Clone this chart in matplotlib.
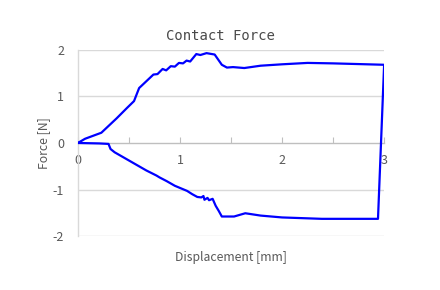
import matplotlib
matplotlib.use("Agg")
import matplotlib.pyplot as plt
from matplotlib.ticker import FixedLocator, FuncFormatter

plt.rcParams["axes.unicode_minus"] = False

# Loop: lower branch (loading), then up at 3 mm, then upper branch back to 0
disp = [0.0, 0.21, 0.30, 0.32, 0.36, 0.67, 0.77, 0.80, 0.87, 0.95, 1.07, 1.12, 1.17,
        1.21, 1.23, 1.24, 1.27, 1.285, 1.32, 1.35, 1.38, 1.41, 1.53, 1.64, 1.79,
        2.0, 2.39, 2.94,
        3.0, 2.5, 2.25, 2.0, 1.79, 1.63, 1.52, 1.46, 1.41, 1.34, 1.26, 1.2, 1.16, 1.1,
        1.065, 1.03, 0.99, 0.95, 0.91, 0.865, 0.83, 0.78, 0.74, 0.60, 0.55, 0.48, 0.38,
        0.23, 0.07, 0.0]
force = [0.0, -0.01, -0.02, -0.13, -0.20, -0.59, -0.70, -0.74, -0.82, -0.92, -1.03, -1.10, -1.16,
         -1.17, -1.14, -1.22, -1.18, -1.23, -1.20, -1.35, -1.46, -1.58, -1.58, -1.51, -1.56,
         -1.60, -1.63, -1.63,
         1.68, 1.71, 1.72, 1.69, 1.66, 1.61, 1.63, 1.62, 1.68, 1.90, 1.93, 1.89, 1.91, 1.75,
         1.77, 1.71, 1.72, 1.64, 1.65, 1.56, 1.59, 1.48, 1.47, 1.18, 0.90, 0.75, 0.53,
         0.22, 0.09, 0.0]

x_ticks = [0, 0.5, 1, 1.5, 2, 2.5, 3]
y_ticks = [-2, -1, 0, 1, 2]

gray = "#595959"
grid = "#d9d9d9"
cjk = ["Noto Sans CJK SC", "DejaVu Sans"]

fig = plt.figure(figsize=(4.4, 2.9), dpi=100)
ax = fig.add_axes([0.177, 0.186, 0.696, 0.642])
ax.plot(disp, force, color="#0000ff", lw=1.6, solid_joinstyle="round", zorder=3)

ax.set_xlim(0, 3)
ax.set_ylim(-2, 2)
for y in y_ticks:
    if y != 0:
        ax.axhline(y, color=grid, lw=1.0, zorder=1)

for s in ["top", "right"]:
    ax.spines[s].set_visible(False)
ax.spines["left"].set_color(grid)
ax.spines["left"].set_linewidth(1.0)
ax.spines["bottom"].set_position(("data", 0))
ax.spines["bottom"].set_color("#bfbfbf")
ax.spines["bottom"].set_linewidth(1.0)

ax.xaxis.set_major_locator(FixedLocator(x_ticks))
ax.xaxis.set_major_formatter(FuncFormatter(lambda v, p: f"{int(v)}" if float(v).is_integer() else ""))
ax.yaxis.set_major_locator(FixedLocator(y_ticks))
ax.yaxis.set_major_formatter(FuncFormatter(lambda v, p: f"{int(v)}"))
ax.tick_params(axis="x", direction="in", length=4, color="#bfbfbf", labelcolor=gray,
               labelsize=9, pad=8)
ax.tick_params(axis="y", length=0, labelcolor=gray, labelsize=9, pad=10)
for lab in ax.get_xticklabels() + ax.get_yticklabels():
    lab.set_family(cjk)

ax.set_xlabel("Displacement [mm]", color=gray, fontsize=8.8, family=cjk, labelpad=0)
ax.xaxis.set_label_coords(0.5, -0.08)
ax.set_ylabel("Force [N]", color=gray, fontsize=8.8, family=cjk)
ax.yaxis.set_label_coords(-0.092, 0.5)
fig.text(0.5, 0.875, "Contact Force", ha="center", va="center", color="#4a4a4a",
         fontsize=10, family="DejaVu Sans Mono")

fig.savefig("out.png", dpi=100)
